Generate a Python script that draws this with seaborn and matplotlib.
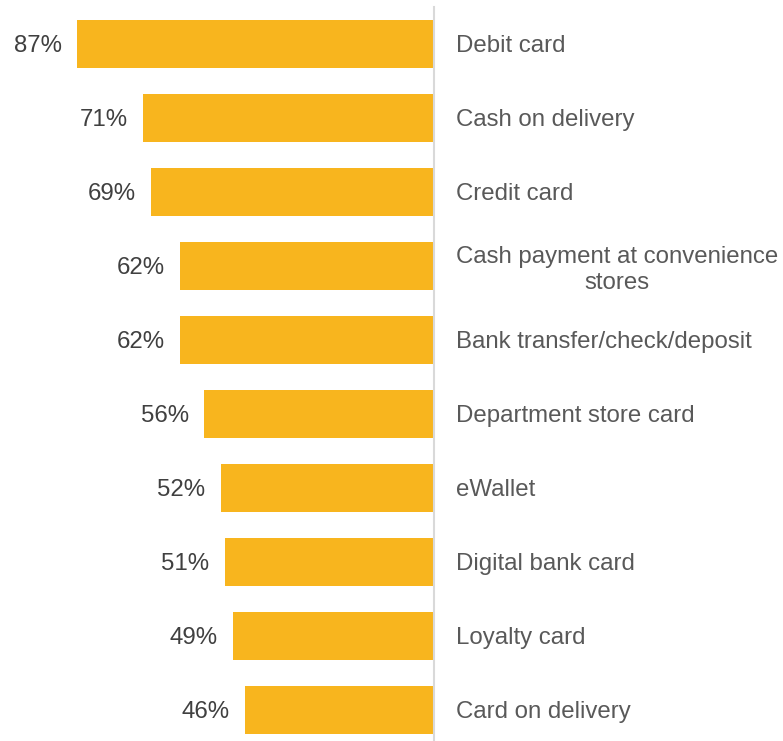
import matplotlib
matplotlib.use("Agg")
import matplotlib.pyplot as plt
import seaborn as sns
import pandas as pd

methods = [
    "Debit card",
    "Cash on delivery",
    "Credit card",
    "Cash payment at convenience\nstores",
    "Bank transfer/check/deposit",
    "Department store card",
    "eWallet",
    "Digital bank card",
    "Loyalty card",
    "Card on delivery",
]
shares = [87, 71, 69, 62, 62, 56, 52, 51, 49, 46]

df = pd.DataFrame({"method": methods, "share": shares})

sns.set_theme(style="white")
plt.rcParams["font.family"] = ["Liberation Sans", "DejaVu Sans"]

W, H = 783, 741
fig = plt.figure(figsize=(W / 100, H / 100), dpi=100)
# axes spans from x=24px to x=434px (0..100 %), top at y=7px
ax = fig.add_axes([24 / W, 0, 410 / W, (H - 7) / H])

sns.barplot(data=df, x="share", y="method", orient="h", color="#F8B51E",
            width=0.66, saturation=1, ax=ax, edgecolor="none")

ax.set_xlim(100, 0)
ax.set_ylim(9.42, -0.5)
ax.set_xlabel("")
ax.set_ylabel("")
ax.set_xticks([])

for s in ["top", "bottom", "left"]:
    ax.spines[s].set_visible(False)
ax.spines["right"].set_visible(True)
ax.spines["right"].set_color("#D9D9D9")
ax.spines["right"].set_linewidth(1.5)

ax.yaxis.tick_right()
ax.tick_params(axis="y", length=0, pad=16, labelsize=17.3, labelcolor="#595959")
for lab in ax.get_yticklabels():
    lab.set_multialignment("center")
    lab.set_linespacing(1.2)
    x, y = lab.get_position()

for cont in ax.containers:
    texts = ax.bar_label(cont, labels=[f"{v}%" for v in shares], padding=11,
                         fontsize=17.3, color="#404040")
    for t in texts:
        t.set_va("center_baseline")

fig.savefig("out.png", dpi=100, facecolor="white")
